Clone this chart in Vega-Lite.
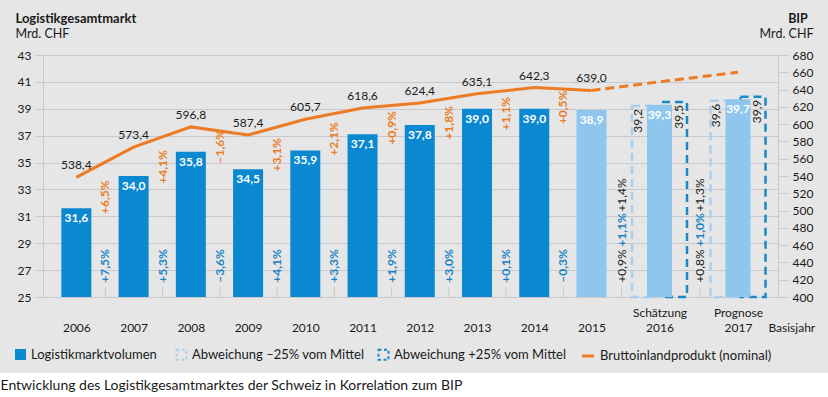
{
  "$schema": "https://vega.github.io/schema/vega-lite/v6.json",
  "width": 735,
  "height": 242,
  "autosize": {"type": "none"},
  "padding": {"left": 43, "top": 55, "right": 50, "bottom": 100},
  "background": "#ffffff",
  "datasets": {
    "jahre": [
      {"year": 2006, "vol": 31.6, "bip": 538.4, "typ": "Logistikmarktvolumen", "nv": "+7,5%", "nb": "+6,5%"},
      {"year": 2007, "vol": 34.0, "bip": 573.4, "typ": "Logistikmarktvolumen", "nv": "+5,3%", "nb": "+4,1%"},
      {"year": 2008, "vol": 35.8, "bip": 596.8, "typ": "Logistikmarktvolumen", "nv": "–3,6%", "nb": "–1,6%"},
      {"year": 2009, "vol": 34.5, "bip": 587.4, "typ": "Logistikmarktvolumen", "nv": "+4,1%", "nb": "+3,1%"},
      {"year": 2010, "vol": 35.9, "bip": 605.7, "typ": "Logistikmarktvolumen", "nv": "+3,3%", "nb": "+2,1%"},
      {"year": 2011, "vol": 37.1, "bip": 618.6, "typ": "Logistikmarktvolumen", "nv": "+1,9%", "nb": "+0,9%"},
      {"year": 2012, "vol": 37.8, "bip": 624.4, "typ": "Logistikmarktvolumen", "nv": "+3,0%", "nb": "+1,8%"},
      {"year": 2013, "vol": 39.0, "bip": 635.1, "typ": "Logistikmarktvolumen", "nv": "+0,1%", "nb": "+1,1%"},
      {"year": 2014, "vol": 39.0, "bip": 642.3, "typ": "Logistikmarktvolumen", "nv": "–0,3%", "nb": "+0,5%"},
      {"year": 2015, "vol": 38.9, "bip": 639.0, "typ": "Schätzung"},
      {"year": 2016, "vol": 39.3, "bip": 649.0, "typ": "Schätzung", "lo": 39.2, "hi": 39.5, "gv": "+1,1%", "glo": "+0,9%", "ghi": "+1,4%"},
      {"year": 2017, "vol": 39.7, "bip": 660.0, "typ": "Schätzung", "lo": 39.6, "hi": 39.9, "gv": "+1,0%", "glo": "+0,8%", "ghi": "+1,3%"}
    ]
  },
  "data": {"name": "jahre"},
  "config": {
    "font": "Lato",
    "locale": {"number": {"decimal": ",", "thousands": "'", "grouping": [3], "currency": ["", " CHF"]}},
    "view": {"fill": "#e6e6e6", "stroke": "#e6e6e6", "strokeWidth": 152},
    "axis": {
      "labelFont": "Lato", "labelFontSize": 12, "labelColor": "#1a1a1a",
      "titleFont": "Lato", "titleColor": "#1a1a1a", "titleLimit": 1000,
      "gridColor": "#c8c8ce", "domainColor": "#c8c8ce", "tickColor": "#c8c8ce",
      "tickCount": 40, "labelOverlap": false
    },
    "legend": {
      "labelFont": "Lato", "labelFontSize": 13, "labelColor": "#1a1a1a", "labelOffset": 4,
      "columnPadding": 20, "labelLimit": 300, "padding": 0, "direction": "horizontal", "orient": "none"
    },
    "text": {"font": "Lato"}
  },
  "layer": [
    {
      "encoding": {
        "x": {
          "field": "year", "type": "quantitative",
          "scale": {"domain": [2005.5, 2015, 2016, 2017, 2017.5], "range": [0, 548.5, 616.5, 695, 735], "nice": false, "zero": false},
          "axis": {
            "orient": "bottom",
            "values": [2006, 2007, 2008, 2009, 2010, 2011, 2012, 2013, 2014, 2015, 2016, 2017, 2017.5],
            "tickCount": 40,
            "labelExpr": "datum.value == 2016 ? ['Schätzung', '2016'] : datum.value == 2017 ? ['Prognose', '2017'] : datum.value > 2017 ? 'Basisjahr' : '' + datum.value",
            "labelFlush": false, "labelOverlap": false,
            "ticks": false, "tickSize": 0, "domain": false, "grid": false,
            "labelBaseline": "bottom", "labelLineHeight": 15,
            "labelPadding": {"condition": {"test": "datum.value == 2016 || datum.value == 2017", "value": 22.5}, "value": 37.5},
            "labelOffset": {"condition": {"test": "datum.value > 2017.2", "value": 19}, "value": 0},
            "title": "Entwicklung des Logistikgesamtmarktes der Schweiz in Korrelation zum BIP",
            "titleX": -43, "titleY": 92, "titleAlign": "left", "titleAnchor": "start",
            "titleBaseline": "alphabetic", "titleFontSize": 14, "titleFontWeight": "normal"
          }
        }
      },
      "layer": [
        {
          "transform": [{"filter": "isValid(datum.lo)"}],
          "mark": {"type": "bar", "filled": false, "strokeWidth": 2.5, "strokeDash": [8, 5], "width": 25, "xOffset": -15},
          "encoding": {
            "y": {
              "field": "lo", "type": "quantitative",
              "scale": {"domain": [25, 43], "nice": false, "zero": false},
              "axis": {
                "orient": "left", "values": [25, 27, 29, 31, 33, 35, 37, 39, 41, 43], "tickCount": 40, "format": "d",
                "grid": true, "tickSize": 8, "labelPadding": 4, "domain": true, "labelOverlap": false,
                "title": "Mrd. CHF", "titleAngle": 0, "titleAlign": "left", "titleBaseline": "alphabetic",
                "titleX": -28, "titleY": -18, "titleFontWeight": "normal", "titleFontSize": 12.5
              }
            },
            "y2": {"datum": 25},
            "stroke": {
              "datum": "Abweichung –25% vom Mittel", "type": "nominal",
              "scale": {"domain": ["Abweichung –25% vom Mittel", "Abweichung +25% vom Mittel"], "range": ["#a8d0ee", "#1a86cc"]},
              "legend": {
                "title": null, "legendX": 132, "legendY": 293, "symbolType": "square", "symbolSize": 100,
                "symbolDash": [3, 2.5], "symbolStrokeWidth": 2, "symbolFillColor": "transparent", "columnPadding": 9
              }
            }
          }
        },
        {
          "transform": [{"filter": "isValid(datum.hi)"}],
          "mark": {"type": "bar", "filled": false, "strokeWidth": 2.5, "strokeDash": [8, 5], "width": 25, "xOffset": 15},
          "encoding": {
            "y": {"field": "hi", "type": "quantitative"},
            "y2": {"datum": 25},
            "stroke": {"datum": "Abweichung +25% vom Mittel", "type": "nominal"}
          }
        },
        {
          "mark": {"type": "bar"},
          "encoding": {
            "y": {"field": "vol", "type": "quantitative"},
            "y2": {"datum": 25},
            "size": {"condition": {"test": "datum.year >= 2016", "value": 25}, "value": 30},
            "fill": {
              "field": "typ", "type": "nominal",
              "scale": {"domain": ["Logistikmarktvolumen", "Schätzung"], "range": ["#0a88d0", "#8ec6ee"]},
              "legend": {
                "title": null, "legendX": -29, "legendY": 293, "values": ["Logistikmarktvolumen"],
                "symbolType": "square", "symbolSize": 121
              }
            }
          }
        },
        {
          "transform": [{"filter": "isValid(datum.nv)"}],
          "mark": {"type": "rule", "color": "#c8c8ce", "strokeWidth": 1, "xOffset": 29},
          "encoding": {"y": {"datum": 25}, "y2": {"datum": 25.75}}
        },
        {
          "transform": [{"filter": "isValid(datum.gv)"}],
          "mark": {"type": "rule", "color": "#c8c8ce", "strokeWidth": 1, "xOffset": -38},
          "encoding": {"y": {"datum": 25}, "y2": {"datum": 25.75}}
        },
        {
          "mark": {"type": "text", "color": "#ffffff", "fontWeight": "bold", "fontSize": 12, "baseline": "alphabetic", "align": "center", "yOffset": 14},
          "encoding": {
            "y": {"field": "vol", "type": "quantitative"},
            "text": {"field": "vol", "type": "quantitative", "format": ".1f"}
          }
        },
        {
          "transform": [{"filter": "isValid(datum.lo)"}],
          "mark": {"type": "text", "color": "#1a1a1a", "fontSize": 12, "angle": 270, "align": "right", "baseline": "middle", "xOffset": -22, "yOffset": 3},
          "encoding": {
            "y": {"field": "lo", "type": "quantitative"},
            "text": {"field": "lo", "type": "quantitative", "format": ".1f"}
          }
        },
        {
          "transform": [{"filter": "isValid(datum.hi)"}],
          "mark": {"type": "text", "color": "#1a1a1a", "fontSize": 12, "angle": 270, "align": "right", "baseline": "middle", "xOffset": 19, "yOffset": 3},
          "encoding": {
            "y": {"field": "hi", "type": "quantitative"},
            "text": {"field": "hi", "type": "quantitative", "format": ".1f"}
          }
        },
        {
          "transform": [{"filter": "isValid(datum.nv)"}],
          "mark": {"type": "text", "color": "#1683c9", "fontWeight": "bold", "fontSize": 12, "angle": 270, "align": "center", "baseline": "middle", "xOffset": 29, "yOffset": -31},
          "encoding": {"y": {"datum": 25}, "text": {"field": "nv"}}
        },
        {
          "transform": [{"filter": "isValid(datum.glo)"}],
          "mark": {"type": "text", "color": "#1a1a1a", "fontSize": 12, "angle": 270, "align": "center", "baseline": "middle", "xOffset": -38, "yOffset": -31},
          "encoding": {"y": {"datum": 25}, "text": {"field": "glo"}}
        },
        {
          "transform": [{"filter": "isValid(datum.gv)"}],
          "mark": {"type": "text", "color": "#1683c9", "fontWeight": "bold", "fontSize": 12, "angle": 270, "align": "center", "baseline": "middle", "xOffset": -38, "yOffset": -67},
          "encoding": {"y": {"datum": 25}, "text": {"field": "gv"}}
        },
        {
          "transform": [{"filter": "isValid(datum.ghi)"}],
          "mark": {"type": "text", "color": "#1a1a1a", "fontSize": 12, "angle": 270, "align": "center", "baseline": "middle", "xOffset": -38, "yOffset": -102},
          "encoding": {"y": {"datum": 25}, "text": {"field": "ghi"}}
        }
      ]
    },
    {
      "encoding": {
        "x": {
          "field": "year", "type": "quantitative",
          "scale": {"domain": [2005.5, 2015, 2016, 2017, 2017.5], "range": [0, 548.5, 616.5, 695, 735], "nice": false, "zero": false},
          "axis": {
            "orient": "top", "values": [2017.5], "labelExpr": "'BIP'",
            "labelFlush": false, "labelOverlap": false,
            "ticks": false, "tickSize": 0, "domain": false, "grid": false,
            "labelAlign": "right", "labelBaseline": "alphabetic", "labelOffset": 35, "labelPadding": 33,
            "labelFontWeight": "bold", "labelFontSize": 12.5,
            "title": "Logistikgesamtmarkt", "titleX": -28, "titleY": -33, "titleAlign": "left",
            "titleBaseline": "alphabetic", "titleFontWeight": "bold", "titleFontSize": 13
          }
        }
      },
      "layer": [
        {
          "transform": [{"filter": "datum.year <= 2015"}],
          "mark": {"type": "line", "strokeWidth": 3, "strokeCap": "butt"},
          "encoding": {
            "y": {
              "field": "bip", "type": "quantitative",
              "scale": {"domain": [400, 680], "nice": false, "zero": false},
              "axis": {
                "orient": "right", "values": [400, 420, 440, 460, 480, 500, 520, 540, 560, 580, 600, 620, 640, 660, 680],
                "tickCount": 40, "labelOverlap": false, "format": "d",
                "grid": false, "tickSize": 10, "labelPadding": 4, "domain": true,
                "title": "Mrd. CHF", "titleAngle": 0, "titleAlign": "right", "titleBaseline": "alphabetic",
                "titleX": 35, "titleY": -18, "titleFontWeight": "normal", "titleFontSize": 12.5
              }
            },
            "color": {
              "datum": "Bruttoinlandprodukt (nominal)", "type": "nominal",
              "scale": {"domain": ["Bruttoinlandprodukt (nominal)"], "range": ["#ec7b23"]},
              "legend": {"title": null, "legendX": 537, "legendY": 293, "symbolType": "stroke", "symbolSize": 150, "symbolStrokeWidth": 3}
            }
          }
        },
        {
          "transform": [{"filter": "datum.year >= 2015"}],
          "mark": {"type": "line", "strokeWidth": 3, "strokeDash": [9, 5], "strokeCap": "butt"},
          "encoding": {
            "y": {"field": "bip", "type": "quantitative"},
            "color": {"datum": "Bruttoinlandprodukt (nominal)", "type": "nominal"}
          }
        },
        {
          "transform": [{"filter": "datum.year <= 2015"}],
          "mark": {"type": "text", "color": "#1a1a1a", "fontSize": 12, "baseline": "alphabetic", "align": "center", "yOffset": -8},
          "encoding": {
            "y": {"field": "bip", "type": "quantitative"},
            "text": {"field": "bip", "type": "quantitative", "format": ".1f"}
          }
        },
        {
          "transform": [{"filter": "isValid(datum.nb)"}],
          "mark": {"type": "text", "color": "#ec7b23", "fontWeight": "bold", "fontSize": 12, "angle": 270, "align": "right", "baseline": "middle", "xOffset": 29, "yOffset": 3},
          "encoding": {
            "y": {"field": "bip", "type": "quantitative"},
            "text": {"field": "nb"}
          }
        }
      ]
    }
  ],
  "resolve": {"scale": {"y": "independent"}, "axis": {"x": "independent", "y": "independent"}}
}
